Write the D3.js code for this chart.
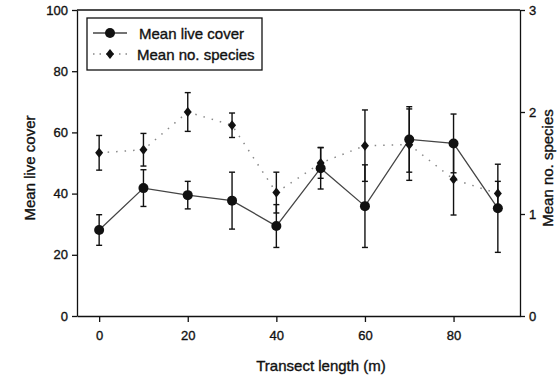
<!DOCTYPE html>
<html>
<head>
<meta charset="utf-8">
<script src="https://cdn.jsdelivr.net/npm/d3@7"></script>
<style>
  body { margin: 0; background: #fff; }
  svg { display: block; font-family: "Liberation Sans", Arial, sans-serif; }
  svg text { stroke: #111; stroke-width: 0.35; }
  .axis text { font-size: 13px; fill: #111; }
  .axis path, .axis line { stroke: #111; stroke-width: 1.3; }
</style>
</head>
<body>
<div id="vis"></div>
<script>
// data
const distances = [0, 10, 20, 30, 40, 50, 60, 70, 80, 90];
const liveCover = [28.1, 41.8, 39.5, 37.7, 29.4, 48.3, 35.9, 57.7, 56.4, 35.2];
const liveCoverErr = [5, 6, 4.5, 9.3, 7, 6.8, 13.5, 10.7, 9.6, 14.4];
const species = [1.6, 1.63, 2.0, 1.87, 1.21, 1.5, 1.67, 1.68, 1.34, 1.2];
const speciesErr = [0.17, 0.16, 0.19, 0.12, 0.2, 0.15, 0.35, 0.35, 0.35, 0.12];
const xTicks = [0, 20, 40, 60, 80];
const leftTicks = [0, 20, 40, 60, 80, 100];
const rightTicks = [0, 1, 2, 3];

const FRAME_WIDTH = 557;
const FRAME_HEIGHT = 382;
const MARGINS = {left: 77, right: 37, top: 10, bottom: 66};

const FRAME = d3.select('#vis')
  .append('svg')
    .attr('width', FRAME_WIDTH)
    .attr('height', FRAME_HEIGHT);

const X_SCALE = d3.scaleLinear()
  .domain([-5, 95])
  .range([MARGINS.left, FRAME_WIDTH - MARGINS.right]);

const Y_LEFT = d3.scaleLinear()
  .domain([0, 100])
  .range([FRAME_HEIGHT - MARGINS.bottom, MARGINS.top]);

const Y_RIGHT = d3.scaleLinear()
  .domain([0, 3])
  .range([FRAME_HEIGHT - MARGINS.bottom, MARGINS.top]);

const coverData = distances.map((d, i) => ({x: d, y: liveCover[i], e: liveCoverErr[i]}));
const speciesData = distances.map((d, i) => ({x: d, y: species[i], e: speciesErr[i]}));

// top border of the frame
FRAME.append('line')
  .attr('x1', X_SCALE.range()[0]).attr('x2', X_SCALE.range()[1])
  .attr('y1', MARGINS.top).attr('y2', MARGINS.top)
  .attr('stroke', '#111').attr('stroke-width', 1.3);

// axes
FRAME.append('g')
  .attr('class', 'axis')
  .attr('transform', 'translate(' + MARGINS.left + ',0)')
  .call(d3.axisLeft(Y_LEFT).tickValues(leftTicks).tickSize(5).tickPadding(4).tickSizeOuter(0));

FRAME.append('g')
  .attr('class', 'axis')
  .attr('transform', 'translate(' + (FRAME_WIDTH - MARGINS.right) + ',0)')
  .call(d3.axisRight(Y_RIGHT).tickValues(rightTicks).tickFormat(d3.format('d'))
    .tickSize(5).tickPadding(4).tickSizeOuter(0));

FRAME.append('g')
  .attr('class', 'axis')
  .attr('transform', 'translate(0,' + (FRAME_HEIGHT - MARGINS.bottom) + ')')
  .call(d3.axisBottom(X_SCALE).tickValues(xTicks).tickSize(6).tickPadding(9).tickSizeOuter(0));

// axis titles
FRAME.append('text')
  .attr('transform', 'translate(35,168) rotate(-90)')
  .attr('text-anchor', 'middle')
  .attr('font-size', '15px')
  .attr('fill', '#111')
  .text('Mean live cover');

FRAME.append('text')
  .attr('transform', 'translate(553,168) rotate(-90)')
  .attr('text-anchor', 'middle')
  .attr('font-size', '15px')
  .attr('fill', '#111')
  .text('Mean no. species');

FRAME.append('text')
  .attr('x', 321)
  .attr('y', 371)
  .attr('text-anchor', 'middle')
  .attr('font-size', '15px')
  .attr('fill', '#111')
  .text('Transect length (m)');

// error bars
function errorBars(data, yScale) {
  const g = FRAME.append('g').attr('stroke', '#111').attr('stroke-width', 1.4);
  g.selectAll('.bar')
    .data(data).enter()
    .append('line')
    .attr('x1', d => X_SCALE(d.x)).attr('x2', d => X_SCALE(d.x))
    .attr('y1', d => yScale(d.y - d.e)).attr('y2', d => yScale(d.y + d.e));
  g.selectAll('.capTop')
    .data(data).enter()
    .append('line')
    .attr('x1', d => X_SCALE(d.x) - 3).attr('x2', d => X_SCALE(d.x) + 3)
    .attr('y1', d => yScale(d.y + d.e)).attr('y2', d => yScale(d.y + d.e));
  g.selectAll('.capBottom')
    .data(data).enter()
    .append('line')
    .attr('x1', d => X_SCALE(d.x) - 3).attr('x2', d => X_SCALE(d.x) + 3)
    .attr('y1', d => yScale(d.y - d.e)).attr('y2', d => yScale(d.y - d.e));
}

errorBars(speciesData, Y_RIGHT);
errorBars(coverData, Y_LEFT);

// species dotted line
FRAME.append('path')
  .datum(speciesData)
  .attr('fill', 'none')
  .attr('stroke', '#888')
  .attr('stroke-width', 1.5)
  .attr('stroke-dasharray', '1.5,7')
  .attr('d', d3.line().x(d => X_SCALE(d.x)).y(d => Y_RIGHT(d.y)));

// live cover solid line
FRAME.append('path')
  .datum(coverData)
  .attr('fill', 'none')
  .attr('stroke', '#444')
  .attr('stroke-width', 1.3)
  .attr('d', d3.line().x(d => X_SCALE(d.x)).y(d => Y_LEFT(d.y)));

const diamond = (cx, cy) => 'M' + cx + ',' + (cy - 5) + 'L' + (cx + 4) + ',' + cy +
  'L' + cx + ',' + (cy + 5) + 'L' + (cx - 4) + ',' + cy + 'Z';

FRAME.selectAll('.diamond')
  .data(speciesData).enter()
  .append('path')
  .attr('d', d => diamond(X_SCALE(d.x), Y_RIGHT(d.y)))
  .attr('fill', '#111');

FRAME.selectAll('.dot')
  .data(coverData).enter()
  .append('circle')
  .attr('cx', d => X_SCALE(d.x))
  .attr('cy', d => Y_LEFT(d.y))
  .attr('r', 5)
  .attr('fill', '#111');

// legend
const LEGEND = FRAME.append('g');
LEGEND.append('rect')
  .attr('x', 87).attr('y', 18)
  .attr('width', 175).attr('height', 52)
  .attr('fill', '#fff')
  .attr('stroke', '#111')
  .attr('stroke-width', 1.3);

LEGEND.append('line')
  .attr('x1', 93).attr('x2', 127).attr('y1', 33).attr('y2', 33)
  .attr('stroke', '#444').attr('stroke-width', 1.3);
LEGEND.append('circle')
  .attr('cx', 110).attr('cy', 33).attr('r', 5).attr('fill', '#111');
LEGEND.append('text')
  .attr('x', 139).attr('y', 39)
  .attr('font-size', '15px').attr('fill', '#111')
  .text('Mean live cover');

LEGEND.append('line')
  .attr('x1', 93).attr('x2', 127).attr('y1', 54).attr('y2', 54)
  .attr('stroke', '#888').attr('stroke-width', 1.5)
  .attr('stroke-dasharray', '1.5,5');
LEGEND.append('path')
  .attr('d', diamond(110, 54))
  .attr('fill', '#111');
LEGEND.append('text')
  .attr('x', 137).attr('y', 60)
  .attr('font-size', '15px').attr('fill', '#111')
  .text('Mean no. species');
</script>
</body>
</html>
